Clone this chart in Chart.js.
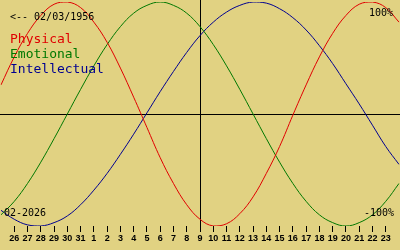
<!DOCTYPE html>
<html>
<head>
<meta charset="utf-8">
<script src="https://cdn.jsdelivr.net/npm/chart.js@4"></script>
<style>
    html, body { margin: 0; padding: 0; background: #e1d282; }
    #wrap { width: 400px; height: 250px; position: relative; }
</style>
</head>
<body>
<div id="wrap"><canvas id="bio"></canvas></div>
<script>
// Days shown (Jan 25 .. Feb 24, 2026); first and last have no tick
const days = ['25', '26', '27', '28', '29', '30', '31', '1', '2', '3', '4', '5', '6', '7', '8', '9',
    '10', '11', '12', '13', '14', '15', '16', '17', '18', '19', '20', '21', '22', '23', '24'];

// Values, -1 .. 1
const physical = [0.26, 0.51, 0.72, 0.88, 0.98, 1.00, 0.95, 0.82, 0.64, 0.41, 0.15, -0.12, -0.39, -0.62, -0.81, -0.94,
    -1.00, -0.98, -0.89, -0.74, -0.53, -0.29, -0.01, 0.26, 0.51, 0.72, 0.88, 0.98, 1.00, 0.95, 0.82];
const emotional = [-0.90, -0.78, -0.62, -0.43, -0.22, 0.00, 0.22, 0.43, 0.62, 0.78, 0.90, 0.97, 1.00, 0.97, 0.90, 0.78,
    0.62, 0.43, 0.22, 0.00, -0.22, -0.43, -0.62, -0.78, -0.90, -0.97, -1.00, -0.97, -0.90, -0.78, -0.62];
const intellectual = [-0.86, -0.94, -0.99, -1.00, -0.97, -0.91, -0.81, -0.68, -0.53, -0.36, -0.18, 0.01, 0.20, 0.38, 0.55, 0.70,
    0.82, 0.91, 0.97, 1.00, 0.99, 0.94, 0.86, 0.75, 0.61, 0.45, 0.27, 0.09, -0.10, -0.29, -0.45];

const birthLabel = '<-- 02/03/1956';
const monthLabel = '02-2026';
const centerDay = '9';

const RED = '#e00000';
const GREEN = '#007800';
const BLUE = '#000090';

// Axis cross + texts drawn straight on the canvas
const bioDecor = {
    id: 'bioDecor',
    beforeDatasetsDraw(chart) {
        const ctx = chart.ctx;
        const area = chart.chartArea;
        const x = chart.scales.x.getPixelForValue(days.indexOf(centerDay));
        const y = chart.scales.y.getPixelForValue(0);
        ctx.save();
        ctx.strokeStyle = '#000';
        ctx.lineWidth = 1;
        ctx.beginPath();
        ctx.moveTo(0, Math.round(y) + 0.5);
        ctx.lineTo(chart.width, Math.round(y) + 0.5);
        ctx.moveTo(Math.round(x) + 0.5, 0);
        ctx.lineTo(Math.round(x) + 0.5, area.bottom + 3);
        ctx.stroke();
        ctx.restore();
    },
    afterDraw(chart) {
        const ctx = chart.ctx;
        ctx.save();
        ctx.textBaseline = 'alphabetic';
        ctx.font = '10px "DejaVu Sans Mono"';
        ctx.fillStyle = '#000';
        ctx.textAlign = 'left';
        ctx.fillText(birthLabel, 10, 20);
        ctx.fillText(monthLabel, 4, 216);
        ctx.textAlign = 'right';
        ctx.fillText('100%', 393, 16);
        ctx.fillText('-100%', 394, 216);

        ctx.textAlign = 'left';
        ctx.font = '13px "DejaVu Sans Mono"';
        ctx.fillStyle = RED;
        ctx.fillText('Physical', 10, 43);
        ctx.fillStyle = GREEN;
        ctx.fillText('Emotional', 10, 58);
        ctx.fillStyle = BLUE;
        ctx.fillText('Intellectual', 10, 73);
        ctx.restore();
    }
};

function curve(data, color) {
    return {
        data: data,
        borderColor: color,
        borderWidth: 1,
        pointRadius: 0,
        pointHoverRadius: 0,
        fill: false,
        tension: 0.4
    };
}

new Chart(document.getElementById('bio'), {
    type: 'line',
    data: {
        labels: days,
        datasets: [
            curve(physical, RED),
            curve(emotional, GREEN),
            curve(intellectual, BLUE)
        ]
    },
    options: {
        responsive: true,
        maintainAspectRatio: false,
        animation: false,
        events: [],
        layout: { autoPadding: false, padding: { top: 2, left: 0, right: 0, bottom: 0 } },
        plugins: {
            legend: { display: false },
            tooltip: { enabled: false }
        },
        scales: {
            x: {
                offset: false,
                border: { display: false },
                grid: {
                    drawOnChartArea: false,
                    drawTicks: true,
                    tickLength: 6,
                    color: (c) => (c.index === 0 || c.index === days.length - 1) ? 'rgba(0,0,0,0)' : '#000'
                },
                ticks: {
                    autoSkip: false,
                    maxRotation: 0,
                    padding: 1,
                    color: '#000',
                    font: { family: 'Liberation Sans', size: 9, weight: 'bold' },
                    callback: (v, i) => (i === 0 || i === days.length - 1) ? '' : days[i]
                },
                afterFit: (scale) => { scale.height = 24; }
            },
            y: {
                display: false,
                min: -1,
                max: 1
            }
        }
    },
    plugins: [bioDecor]
});
</script>
</body>
</html>
